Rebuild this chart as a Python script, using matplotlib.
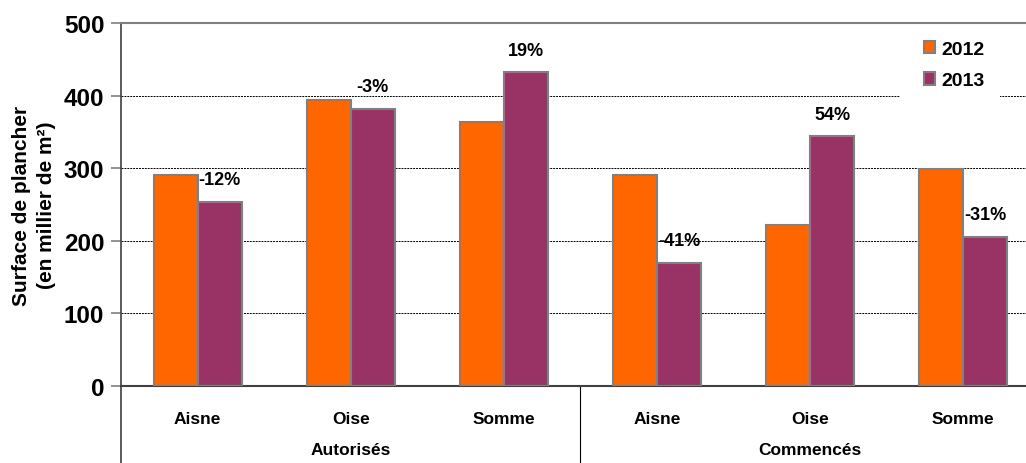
import matplotlib.pyplot as plt
from matplotlib.patches import Patch, Rectangle
from matplotlib.lines import Line2D
import numpy as np

plt.rcParams['font.family'] = ['Liberation Sans', 'DejaVu Sans']
plt.rcParams['font.weight'] = 'bold'

departements = ['Aisne', 'Oise', 'Somme', 'Aisne', 'Oise', 'Somme']
groupes = ['Autorisés', 'Commencés']
v2012 = [290, 394, 363, 290, 222, 299]
v2013 = [254, 382, 432, 170, 344, 205]
evolutions = ['-12%', '-3%', '19%', '-41%', '54%', '-31%']

orange = '#FF6600'
violet = '#993366'
bord = '#808080'

fig = plt.figure(figsize=(10.26, 4.64), dpi=100)
ax = fig.add_axes([121/1026, 77/464, 905/1026, 363/464])

x = np.arange(len(departements))
w = 0.287
ax.bar(x - w/2, v2012, w, color=orange, edgecolor=bord, linewidth=1.5, zorder=3)
ax.bar(x + w/2, v2013, w, color=violet, edgecolor=bord, linewidth=1.5, zorder=3)

for xi, v, lab in zip(x, v2013, evolutions):
    ax.annotate(lab, (xi + w/2, v), xytext=(0, 16), textcoords='offset points',
                ha='center', va='center', fontsize=13, fontweight='bold', zorder=5)

ax.set_xlim(-0.5, 5.41)
ax.set_ylim(0, 500)
ax.set_yticks([0, 100, 200, 300, 400, 500])
ax.tick_params(axis='y', labelsize=17.5, length=7, color=bord, width=1.2, pad=5)
for t in ax.get_yticklabels():
    t.set_fontweight('bold')
ax.set_axisbelow(True)
ax.yaxis.grid(True, color='black', linestyle=(0, (2, 1)), linewidth=0.7)

ax.set_xticks(x)
ax.set_xticklabels(departements, fontsize=12.5, fontweight='bold')
ax.tick_params(axis='x', length=0, pad=18)

ax.spines['right'].set_visible(False)
ax.spines['top'].set_color(bord)
ax.spines['top'].set_linewidth(1.5)
ax.spines['left'].set_color('#404040')
ax.spines['left'].set_linewidth(1.2)
ax.spines['bottom'].set_color('#404040')
ax.spines['bottom'].set_linewidth(1.5)

ax.set_ylabel('Surface de plancher\n(en millier de m²)', fontsize=15,
              fontweight='bold', labelpad=6, linespacing=1.35)

# niveaux de categories
bas = -77/363
ax.add_line(Line2D([0, 0], [0, bas], transform=ax.transAxes, color='#404040',
                   linewidth=1.2, clip_on=False))
sep = (2.5 + 0.5) / 5.91
ax.add_line(Line2D([sep, sep], [0, bas], transform=ax.transAxes, color='black',
                   linewidth=0.8, clip_on=False))
for gx, g in zip([1, 4], groupes):
    ax.text(gx, -64/363, g, transform=ax.get_xaxis_transform(), ha='center',
            va='center', fontsize=12.5, fontweight='bold')

# fond blanc de la legende
ax.add_patch(Rectangle((779/905, (387-100)/363), 100/905, 74/363, transform=ax.transAxes,
                       facecolor='white', edgecolor='none', zorder=2))
leg = ax.legend(handles=[Patch(facecolor=orange, edgecolor=bord, linewidth=1.5, label='2012'),
                         Patch(facecolor=violet, edgecolor=bord, linewidth=1.5, label='2013')],
                loc='upper left', bbox_to_anchor=(793/905, 0.978), frameon=False,
                fontsize=14, handlelength=0.6, handleheight=0.6, handletextpad=0.3,
                labelspacing=0.75, borderpad=0.0)
for t in leg.get_texts():
    t.set_fontweight('bold')

fig.savefig('out.png', dpi=100)
